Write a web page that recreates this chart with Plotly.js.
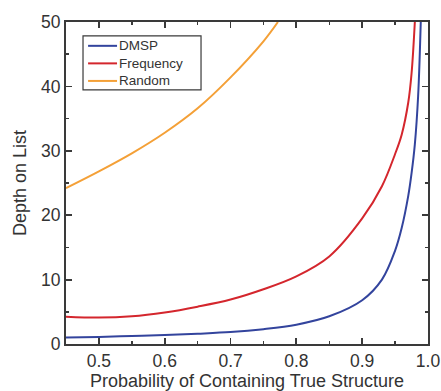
<!DOCTYPE html>
<html>
<head>
<meta charset="utf-8">
<script src="https://cdn.plot.ly/plotly-3.0.1.min.js"></script>
<style>html,body{margin:0;padding:0;background:#fff;}#chart{width:441px;height:391px;}</style>
</head>
<body>
<div id="chart"></div>
<script>
var seriesNames = ["DMSP", "Frequency", "Random"];

var dmspX = [0.45, 0.50, 0.55, 0.60, 0.65, 0.70, 0.75, 0.80, 0.85, 0.90, 0.93, 0.95, 0.96, 0.97, 0.975, 0.98, 0.985, 0.989];
var dmspY = [1.0, 1.1, 1.25, 1.4, 1.6, 1.85, 2.3, 3.0, 4.3, 6.8, 10.0, 14.5, 18.0, 23.0, 26.5, 31.0, 38.5, 50.0];

var freqX = [0.45, 0.50, 0.55, 0.60, 0.65, 0.70, 0.75, 0.80, 0.85, 0.90, 0.93, 0.95, 0.96, 0.97, 0.975, 0.98];
var freqY = [4.25, 4.1, 4.3, 4.9, 5.8, 6.9, 8.5, 10.5, 13.6, 19.5, 24.5, 29.5, 32.5, 37.5, 42.0, 50.0];

var randX = [0.45, 0.50, 0.55, 0.60, 0.65, 0.70, 0.75, 0.772];
var randY = [24.2, 26.8, 29.6, 32.8, 36.6, 41.4, 47.0, 50.0];

var colors = ["#33449d", "#d4262d", "#f4a037"];
var FONT = "Liberation Sans, Arial, Helvetica, sans-serif";
var INK = "#333";

var traces = [
  {x: dmspX, y: dmspY, name: seriesNames[0]},
  {x: freqX, y: freqY, name: seriesNames[1]},
  {x: randX, y: randY, name: seriesNames[2]}
].map(function(t, i){
  t.type = "scatter"; t.mode = "lines"; t.showlegend = false;
  t.line = {color: colors[i], width: 2, shape: "spline", smoothing: 1};
  return t;
});

// Custom legend box (paper coordinates); labels as one multi-line text
var legRowsY = [0.926, 0.8715, 0.817];
var shapes = [{
  type: "rect", xref: "paper", yref: "paper",
  x0: 0.047, x1: 0.373, y0: 0.789, y1: 0.957,
  line: {color: "#3a3a3a", width: 1.2}, fillcolor: "#fff", layer: "above"
}];
seriesNames.forEach(function(n, i){
  shapes.push({type: "line", xref: "paper", yref: "paper",
    x0: 0.061, x1: 0.141, y0: legRowsY[i], y1: legRowsY[i],
    line: {color: colors[i], width: 2}, layer: "above"});
});
var annotations = [{
  xref: "paper", yref: "paper", x: 0.141, y: legRowsY[1],
  xanchor: "left", yanchor: "middle", align: "left", showarrow: false,
  text: seriesNames.join("<br>"),
  font: {family: FONT, size: 13.5, color: INK}
}];

var axisCommon = {
  showline: true, linecolor: "#3a3a3a", linewidth: 2, mirror: "ticks",
  ticks: "inside", ticklen: 6, tickwidth: 1.8, tickcolor: "#3a3a3a",
  showgrid: false, zeroline: false,
  tickfont: {family: FONT, size: 17.5, color: INK}
};

var layout = {
  width: 441, height: 391,
  margin: {l: 66, r: 13, t: 22, b: 47},
  paper_bgcolor: "#fff", plot_bgcolor: "#fff",
  showlegend: false,
  shapes: shapes,
  annotations: annotations,
  xaxis: Object.assign({}, axisCommon, {
    range: [0.45, 1.0], dtick: 0.1, tick0: 0, tickformat: ".1f",
    minor: {dtick: 0.05, ticks: "inside", ticklen: 3, tickwidth: 1.5, tickcolor: "#3a3a3a", showgrid: false},
    title: {text: "Probability of Containing True Structure", standoff: 3,
            font: {family: FONT, size: 18, color: INK}}
  }),
  yaxis: Object.assign({}, axisCommon, {
    range: [0, 50], dtick: 10,
    minor: {dtick: 5, ticks: "inside", ticklen: 3, tickwidth: 1.5, tickcolor: "#3a3a3a", showgrid: false},
    title: {text: "Depth on List", standoff: 10, font: {family: FONT, size: 18, color: INK}}
  })
};

Plotly.newPlot("chart", traces, layout, {staticPlot: true, displayModeBar: false});
</script>
</body>
</html>
